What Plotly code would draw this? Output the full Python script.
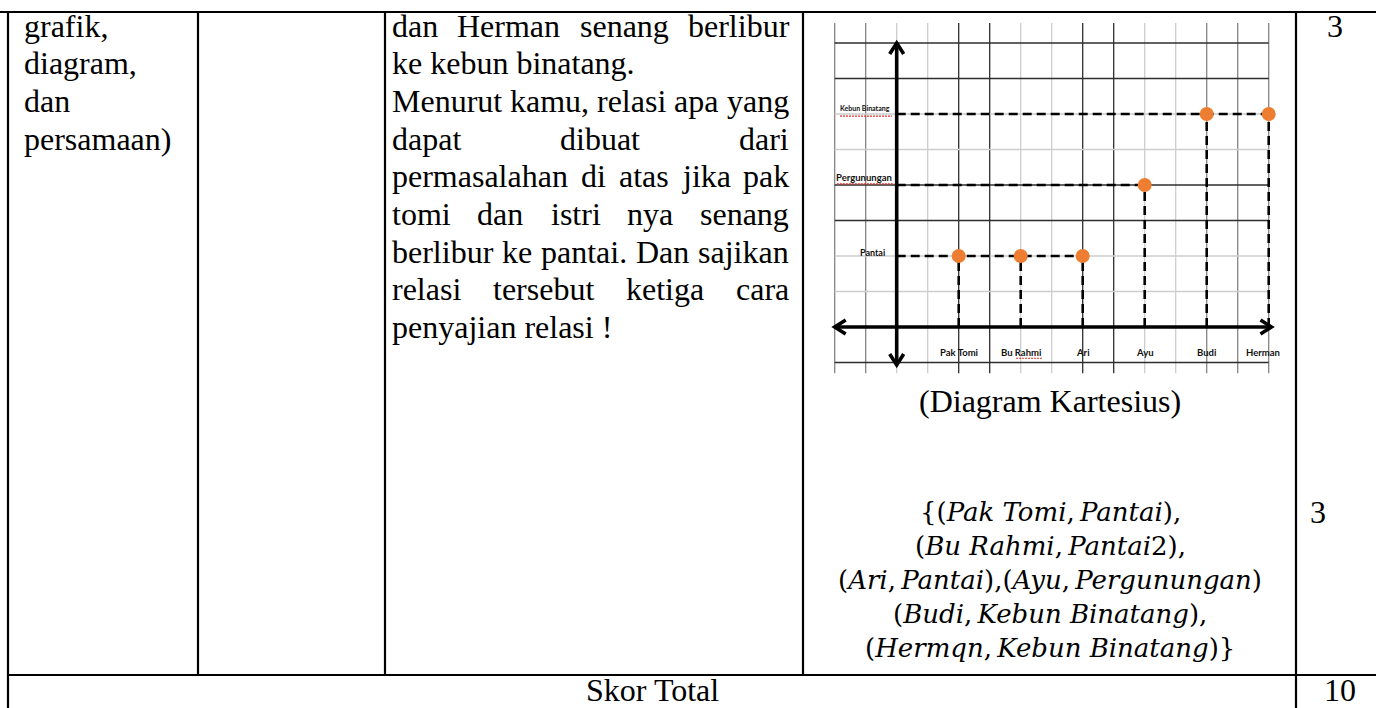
import plotly.graph_objects as go

W, H = 1376, 708

# ---------------- data ----------------
col1_lines = ["grafik,", "diagram,", "dan", "persamaan)"]
question_lines = [
    "dan Herman senang berlibur",
    "ke kebun binatang.",
    "Menurut kamu, relasi apa yang",
    "dapat dibuat dari",
    "permasalahan di atas jika pak",
    "tomi dan istri nya senang",
    "berlibur ke pantai. Dan sajikan",
    "relasi tersebut ketiga cara",
    "penyajian relasi !",
]
question_paragraph_end = [False, True, False, False, False, False, False, False, True]
people = ["Pak Tomi", "Bu Rahmi", "Ari", "Ayu", "Budi", "Herman"]
places = ["Pantai", "Pergunungan", "Kebun Binatang"]
holiday = ["Pantai", "Pantai", "Pantai", "Pergunungan", "Kebun Binatang", "Kebun Binatang"]
caption = "(Diagram Kartesius)"
pairs_text = [
    "{(<i>Pak Tomi</i>,\u2009<i>Pantai</i>),",
    "(<i>Bu Rahmi</i>,\u2009<i>Pantai</i>2),",
    "(<i>Ari</i>,\u2009<i>Pantai</i>),(<i>Ayu</i>,\u2009<i>Pergunungan</i>)",
    "(<i>Budi</i>,\u2009<i>Kebun Binatang</i>),",
    "(<i>Hermqn</i>,\u2009<i>Kebun Binatang</i>)}",
]
score_items = ["3", "3"]
total_label = "Skor Total"
total_score = "10"

# ---------------- helpers ----------------
def px(x):
    return x / W


def py(y):
    return 1 - y / H


_low = dict(zip("abcdefghijklmnopqrstuvwxyz",
                [444, 500, 444, 500, 444, 333, 500, 500, 278, 278, 500, 278, 778,
                 500, 500, 500, 500, 333, 389, 278, 500, 500, 722, 500, 500, 444]))
_up = dict(zip("ABCDEFGHIJKLMNOPQRSTUVWXYZ",
               [722, 667, 667, 722, 611, 556, 722, 722, 333, 389, 722, 611, 889,
                722, 722, 556, 722, 667, 556, 611, 722, 722, 944, 722, 722, 611]))
TIMES = {**_low, **_up, " ": 250, "!": 333, ",": 250, ".": 250, "(": 333, ")": 333}


def text_width(s, size):
    return sum(TIMES.get(c, 500) for c in s) / 1000.0 * size


SERIF = "Liberation Serif"
FS = 32
LINE0, LSTEP = 25.5, 37.7

annotations = []
shapes = []


def add_text(x, y, text, size=FS, xanchor="left", family=SERIF, color="black"):
    annotations.append(dict(
        x=px(x), y=py(y), xref="paper", yref="paper", text=text, showarrow=False,
        xanchor=xanchor, yanchor="middle", font=dict(family=family, size=size, color=color)))


def add_line(x0, y0, x1, y1, width=2.2, color="black"):
    shapes.append(dict(type="line", xref="paper", yref="paper",
                       x0=px(x0), y0=py(y0), x1=px(x1), y1=py(y1),
                       line=dict(color=color, width=width)))


# ---------------- table frame ----------------
add_line(0, 12, W, 12)
add_line(8, 12, 8, H)
add_line(198, 12, 198, 675)
add_line(385, 12, 385, 675)
add_line(803, 12, 803, 675)
add_line(1296, 12, 1296, H)
add_line(8, 675, W, 675)

# ---------------- column texts ----------------
for i, t in enumerate(col1_lines):
    add_text(22, LINE0 + i * LSTEP, t)

QL, QR = 390, 787
for i, (t, last) in enumerate(zip(question_lines, question_paragraph_end)):
    yy = LINE0 + i * LSTEP
    words = t.split(" ")
    if last or len(words) == 1:
        add_text(QL, yy, t)
        continue
    widths = [text_width(w, FS) for w in words]
    gap = (QR - QL - sum(widths)) / (len(words) - 1)
    xx = QL
    for w, wd in zip(words, widths):
        add_text(xx, yy, w)
        xx += wd + gap

add_text(1335, LINE0, score_items[0], xanchor="center")
add_text(1050, 401, caption, xanchor="center")
for i, t in enumerate(pairs_text):
    add_text(1050, 512 + i * 34, t, size=26, xanchor="center", family="DejaVu Serif")
add_text(1318, 512, score_items[1], xanchor="center")
add_text(652, 690, total_label, xanchor="center")
add_text(1340, 690, total_score, xanchor="center")

# ---------------- cartesian diagram ----------------
OX, OY = 896.7, 327.0
UX, UY = 31.0, 35.5
XR = (-2.6, 12.6)
YR = (-1.6, 9.0)
xdom = [(OX + UX * XR[0]) / W, (OX + UX * XR[1]) / W]
ydom = [1 - (OY - UY * YR[0]) / H, 1 - (OY - UY * YR[1]) / H]

px_pos = {p: 2 * (i + 1) for i, p in enumerate(people)}
pl_pos = {p: 2 * (j + 1) for j, p in enumerate(places)}

GRID_COL = {"dark": "#2e2e2e", "mid": "#858585", "light": "#cdcdcd"}
v_style = ["mid", "mid", "light", "light", "dark", "dark", "light", "light",
           "dark", "dark", "light", "light", "mid", "mid", "mid"]
h_style = ["dark", "dark", "light", "light", "dark", "dark", "light", "light", "dark", "dark"]
for k, st in zip(range(-2, 13), v_style):
    shapes.append(dict(type="line", xref="x", yref="y", x0=k, x1=k, y0=-1.30, y1=8.56,
                       layer="below", line=dict(color=GRID_COL[st], width=1.3)))
for k, st in zip(range(-1, 9), h_style):
    shapes.append(dict(type="line", xref="x", yref="y", x0=-2, x1=12, y0=k, y1=k,
                       layer="below", line=dict(color=GRID_COL[st], width=1.3)))

fig = go.Figure()
DASH = dict(color="black", width=2.6, dash="9px,5px")

# horizontal dashed guides: axis -> farthest person for each place
for pl in places:
    xs = [px_pos[p] for p, h in zip(people, holiday) if h == pl]
    fig.add_trace(go.Scatter(x=[0, max(xs)], y=[pl_pos[pl]] * 2, mode="lines",
                             line=DASH, hoverinfo="skip", showlegend=False))
# vertical dashed guides
for p, h in zip(people, holiday):
    fig.add_trace(go.Scatter(x=[px_pos[p]] * 2, y=[0, pl_pos[h]], mode="lines",
                             line=DASH, hoverinfo="skip", showlegend=False))

# axes with arrow heads
AX = dict(color="black", width=3.6)
ax_x = (-2.0, 12.09)
ax_y = (-1.07, 8.0)
fig.add_trace(go.Scatter(x=list(ax_x), y=[0, 0], mode="lines", line=AX, hoverinfo="skip", showlegend=False))
fig.add_trace(go.Scatter(x=[0, 0], y=list(ax_y), mode="lines", line=AX, hoverinfo="skip", showlegend=False))
hx, hy = 7 / UX, 7 / UY
dx, dy = 11 / UX, 11 / UY
heads = [
    ([-hx, 0, hx], [ax_y[1] - dy, ax_y[1], ax_y[1] - dy]),
    ([-hx, 0, hx], [ax_y[0] + dy, ax_y[0], ax_y[0] + dy]),
    ([ax_x[0] + dx, ax_x[0], ax_x[0] + dx], [hy, 0, -hy]),
    ([ax_x[1] - dx, ax_x[1], ax_x[1] - dx], [hy, 0, -hy]),
]
for hxs, hys in heads:
    fig.add_trace(go.Scatter(x=hxs, y=hys, mode="lines", line=AX, hoverinfo="skip", showlegend=False))

# points
fig.add_trace(go.Scatter(
    x=[px_pos[p] for p in people], y=[pl_pos[h] for h in holiday], mode="markers",
    marker=dict(color="#ED7D31", size=14, line=dict(width=0)),
    hoverinfo="skip", showlegend=False))

# labels
LAB = "Lato"
ylab_style = {"Pantai": (9, -0.31, 0.11), "Pergunungan": (9.5, -0.08, 0.22),
              "Kebun Binatang": (7, -0.15, 0.17)}
for pl in places:
    sz, xo, yo = ylab_style[pl]
    annotations.append(dict(x=xo, y=pl_pos[pl] + yo, xref="x", yref="y", text="<b>%s</b>" % pl,
                            showarrow=False, xanchor="right", yanchor="middle",
                            font=dict(family=LAB, size=sz, color="#111")))
for i, p in enumerate(people):
    shift = -6 if i == len(people) - 1 else 0
    annotations.append(dict(x=px_pos[p], y=-0.73, xref="x", yref="y", text="<b>%s</b>" % p,
                            showarrow=False, xanchor="center", yanchor="middle", xshift=shift,
                            font=dict(family=LAB, size=9.5, color="#111")))

# spell-check squiggles under a few labels
SQ = dict(color="#e0302a", width=1.2, dash="2px,1px")
squig = [((-1.83, -0.15), pl_pos["Kebun Binatang"] - 0.06),
         ((-1.93, -0.08), pl_pos["Pergunungan"] + 0.03),
         ((px_pos["Bu Rahmi"] - 0.15, px_pos["Bu Rahmi"] + 0.72), -0.88)]
for (x0, x1), yy in squig:
    fig.add_trace(go.Scatter(x=[x0, x1], y=[yy, yy], mode="lines", line=SQ,
                             hoverinfo="skip", showlegend=False))

fig.update_layout(
    width=W, height=H, autosize=False,
    margin=dict(l=0, r=0, t=0, b=0, pad=0),
    paper_bgcolor="white", plot_bgcolor="rgba(0,0,0,0)",
    xaxis=dict(domain=xdom, range=list(XR), visible=False, fixedrange=True),
    yaxis=dict(domain=ydom, range=list(YR), visible=False, fixedrange=True),
    shapes=shapes, annotations=annotations, showlegend=False,
)

fig.write_html("out.html", config={"displayModeBar": False},
               post_script="document.body.style.margin='0';document.body.style.overflow='hidden';")
